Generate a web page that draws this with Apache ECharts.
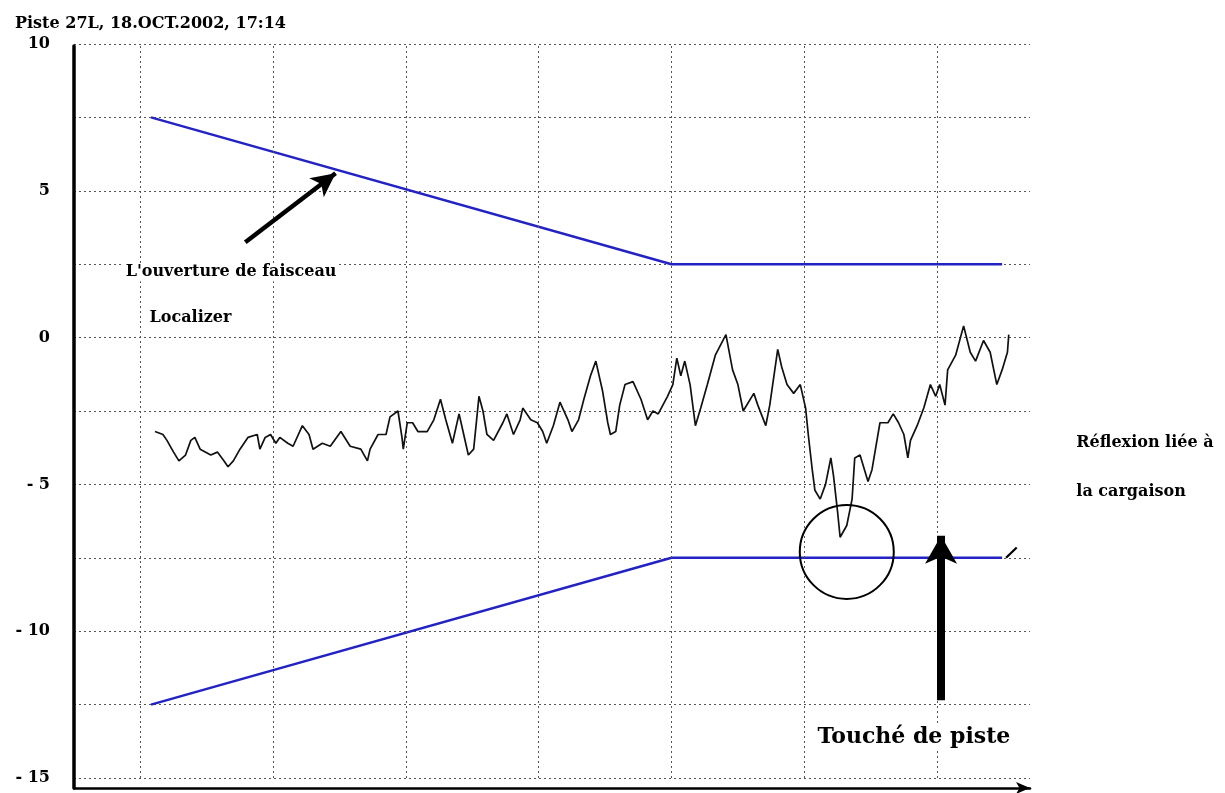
<!DOCTYPE html>
<html><head><meta charset="utf-8">
<script src="https://cdn.jsdelivr.net/npm/echarts@6/dist/echarts.min.js"></script>
<style>html,body{margin:0;padding:0;background:#fff}#c{width:1225px;height:793px}</style>
</head><body><div id="c"></div>
<script>
// ---- data ----
const traceX = [1.1,1.7,2.0,2.5,2.9,3.4,3.8,4.1,4.5,5.3,5.8,6.3,6.6,7.0,7.5,8.1,8.8,9.0,9.4,9.8,
  10.2,10.5,11.1,11.5,12.2,12.7,13.0,13.7,14.3,15.1,15.8,16.6,17.1,17.3,17.9,18.5,18.8,19.4,19.7,19.8,
  20.1,20.5,20.9,21.6,22.1,22.6,23.0,23.5,24.0,24.3,24.7,25.1,25.5,25.8,26.1,26.6,27.3,27.6,28.1,28.6,
  28.8,29.4,29.9,30.3,30.6,31.1,31.6,32.2,32.5,33.0,33.4,33.9,34.3,34.8,35.2,35.4,35.8,36.1,36.5,37.1,
  37.7,38.2,38.6,39.0,39.7,40.1,40.4,40.7,41.0,41.4,41.8,42.2,42.7,43.3,44.1,44.6,45.0,45.4,46.2,46.5,
  47.1,47.4,48.0,48.3,48.7,49.2,49.7,50.1,50.3,50.6,50.8,51.2,51.6,52.0,52.2,52.5,52.7,53.2,53.6,53.8,
  54.2,54.6,54.8,55.1,55.4,55.7,56.3,56.7,57.1,57.5,57.8,58.0,58.5,59.0,59.5,59.9,60.2,60.6,60.8,61.4,
  62.0,62.5,62.9,63.5,64.0,64.5,64.9,65.3,65.4];
const traceY = [-3.2,-3.3,-3.5,-3.9,-4.2,-4.0,-3.5,-3.4,-3.8,-4.0,-3.9,-4.2,-4.4,-4.2,-3.8,-3.4,-3.3,-3.8,-3.4,-3.3,
  -3.6,-3.4,-3.6,-3.7,-3.0,-3.3,-3.8,-3.6,-3.7,-3.2,-3.7,-3.8,-4.2,-3.8,-3.3,-3.3,-2.7,-2.5,-3.4,-3.8,
  -2.9,-2.9,-3.2,-3.2,-2.8,-2.1,-2.8,-3.6,-2.6,-3.2,-4.0,-3.8,-2.0,-2.5,-3.3,-3.5,-2.9,-2.6,-3.3,-2.8,
  -2.4,-2.8,-2.9,-3.2,-3.6,-3.0,-2.2,-2.8,-3.2,-2.8,-2.1,-1.3,-0.8,-1.8,-2.9,-3.3,-3.2,-2.3,-1.6,-1.5,
  -2.1,-2.8,-2.5,-2.6,-2.0,-1.6,-0.7,-1.3,-0.8,-1.6,-3.0,-2.4,-1.6,-0.6,0.1,-1.1,-1.6,-2.5,-1.9,-2.3,
  -3.0,-2.3,-0.4,-1.0,-1.6,-1.9,-1.6,-2.4,-3.3,-4.5,-5.2,-5.5,-5.0,-4.1,-4.7,-5.9,-6.8,-6.4,-5.5,-4.1,
  -4.0,-4.6,-4.9,-4.5,-3.7,-2.9,-2.9,-2.6,-2.9,-3.3,-4.1,-3.5,-3.0,-2.4,-1.6,-2.0,-1.6,-2.3,-1.1,-0.6,
  0.4,-0.5,-0.8,-0.1,-0.5,-1.6,-1.1,-0.5,0.1];
const beamX = [0.8, 40, 64.9];
const beamUpperY = [7.5, 2.5, 2.5];
const beamLowerY = [-12.5, -7.5, -7.5];
const gridLineX = [0, 10, 20, 30, 40, 50, 60];
const yTickLabels = [10, 5, 0, -5, -10, -15];
const titleText = 'Piste 27L, 18.OCT.2002, 17:14';

// ---- chart ----
const SERIF = '"DejaVu Serif", "Liberation Serif", serif';
const pairs = (xs, ys) => xs.map((x, i) => [x, ys[i]]);
const chart = echarts.init(document.getElementById('c'), null, {renderer: 'canvas'});

const noteStyle = {fontFamily: SERIF, fontSize: 16, fontWeight: 'bold', color: '#000'};
function textSeries(name, x, y, style, bg) {
  return {
    type: 'scatter', xAxisIndex: 0, yAxisIndex: 0, clip: false, silent: true, z: 10,
    symbolSize: 1, itemStyle: {color: '#fff', opacity: 1},
    label: Object.assign({show: true, position: 'right', distance: 0, formatter: name, opacity: 1,
      backgroundColor: bg || 'transparent', padding: [1, 2]}, style),
    data: [[x, y]]
  };
}

chart.setOption({
  animation: false,
  backgroundColor: '#fff',
  title: {text: titleText, left: 10, top: 11,
    textStyle: {fontFamily: SERIF, fontSize: 16, fontWeight: 'bold', color: '#000'}},
  grid: [
    {left: 74, top: 44, width: 956, height: 734, containLabel: false, outerBoundsMode: 'none'},
    {left: 74, top: 46, width: 956, height: 742, containLabel: false, outerBoundsMode: 'none'}
  ],
  xAxis: [
    {type: 'value', gridIndex: 0, min: -5, max: 67, show: true,
      axisLine: {show: false}, axisTick: {show: false}, axisLabel: {show: false}, splitLine: {show: false}},
    {type: 'value', gridIndex: 1, min: 0, max: 1,
      axisLine: {show: true, symbol: ['none', 'arrow'], symbolSize: [9, 14], lineStyle: {color: '#000', width: 2.5}},
      axisTick: {show: false}, axisLabel: {show: false}, splitLine: {show: false}}
  ],
  yAxis: [
    {type: 'value', gridIndex: 0, min: -15, max: 10, interval: 2.5,
      axisLine: {show: false}, axisTick: {show: false},
      axisLabel: {margin: 24, fontFamily: SERIF, fontSize: 16, fontWeight: 'bold', color: '#000',
        formatter: v => yTickLabels.indexOf(v) >= 0 ? (v < 0 ? '- ' + Math.abs(v) : String(v)) : ''},
      splitLine: {show: true, lineStyle: {color: '#555', width: 1, type: [2, 3]}}},
    {type: 'value', gridIndex: 1, min: 0, max: 1,
      axisLine: {show: true, lineStyle: {color: '#000', width: 3.5}},
      axisTick: {show: false}, axisLabel: {show: false}, splitLine: {show: false}}
  ],
  series: [
    {type: 'line', name: 'Localizer', xAxisIndex: 0, yAxisIndex: 0, data: pairs(traceX, traceY),
      showSymbol: false, symbol: 'none', lineStyle: {color: '#111', width: 1.7}, z: 5,
      markLine: {silent: true, symbol: 'none', label: {show: false},
        lineStyle: {color: '#555', width: 1, type: [2, 3]},
        data: gridLineX.map(v => ({xAxis: v}))}},
    {type: 'line', name: 'upper', xAxisIndex: 0, yAxisIndex: 0, data: pairs(beamX, beamUpperY),
      symbol: 'none', lineStyle: {color: '#2323c4', width: 2.5}, z: 4},
    {type: 'line', name: 'lower', xAxisIndex: 0, yAxisIndex: 0, data: pairs(beamX, beamLowerY),
      symbol: 'none', lineStyle: {color: '#2323c4', width: 2.5}, z: 4},
    // arrow to beam edge
    {type: 'line', xAxisIndex: 0, yAxisIndex: 0, data: [], clip: false, z: 8,
      markLine: {silent: true, symbol: ['none', 'arrow'], symbolSize: [18, 24], label: {show: false},
        lineStyle: {color: '#000', width: 4.5, type: 'solid'},
        data: [[{coord: [7.9, 3.25]}, {coord: [14.7, 5.6]}]]}},
    // touchdown arrow
    {type: 'line', xAxisIndex: 0, yAxisIndex: 0, data: [], clip: false, z: 8,
      markLine: {silent: true, symbol: ['none', 'arrow'], symbolSize: [24, 28], label: {show: false},
        lineStyle: {color: '#000', width: 8, type: 'solid'},
        data: [[{coord: [60.3, -12.35]}, {coord: [60.3, -6.75]}]]}},
    // pointer line & small slash
    {type: 'line', xAxisIndex: 0, yAxisIndex: 0, data: [], clip: false, z: 8,
      markLine: {silent: true, symbol: 'none', label: {show: false},
        lineStyle: {color: '#000', width: 2.2, type: 'solid'},
        data: [[{coord: [56.5, -6.56]}, {coord: [69.4, -4.21]}],
               [{coord: [65.2, -7.5]}, {coord: [66.0, -7.15]}]]}},
    // circle
    {type: 'scatter', xAxisIndex: 0, yAxisIndex: 0, clip: false, silent: true, z: 9,
      symbol: 'circle', symbolSize: 94,
      itemStyle: {color: 'rgba(255,255,255,0)', borderColor: '#000', borderWidth: 2, opacity: 1},
      data: [[53.2, -7.3]]},
    textSeries("L'ouverture de faisceau", -1.3, 2.23, noteStyle, '#fff'),
    textSeries('Localizer', 0.5, 0.66, noteStyle),
    textSeries('Réflexion liée à', 70.3, -3.59, noteStyle),
    textSeries('la cargaison', 70.3, -5.26, noteStyle),
    textSeries('Touché de piste', 50.8, -13.6,
      {fontFamily: SERIF, fontSize: 22, fontWeight: 'bold', color: '#000'}, '#fff')
  ]
});
</script>
</body></html>
